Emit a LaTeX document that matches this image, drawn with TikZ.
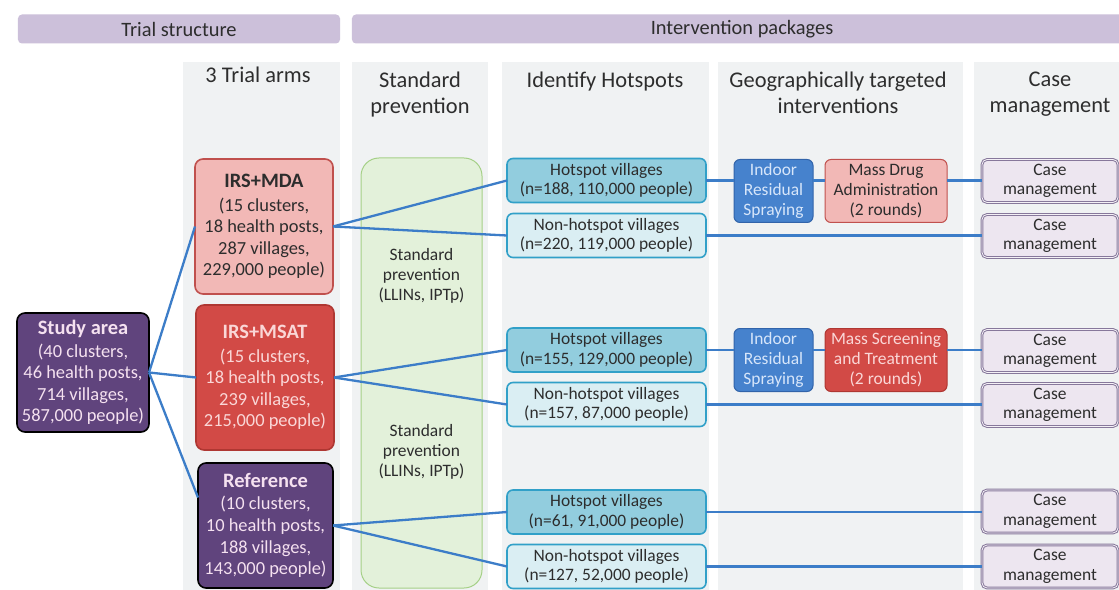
\documentclass[tikz,border=0pt]{standalone}
\usepackage{fontspec}
\setmainfont{Carlito}

\definecolor{barlav}{RGB}{204,192,218}
\definecolor{panelgray}{RGB}{240,242,243}
\definecolor{textdark}{RGB}{45,45,45}
\definecolor{purpfill}{RGB}{96,68,125}
\definecolor{purptext}{RGB}{245,225,240}
\definecolor{mdafill}{RGB}{242,184,182}
\definecolor{mdaline}{RGB}{192,80,77}
\definecolor{msatfill}{RGB}{210,74,70}
\definecolor{msatline}{RGB}{175,55,50}
\definecolor{msattext}{RGB}{250,215,215}
\definecolor{hotfill}{RGB}{146,205,222}
\definecolor{hotline}{RGB}{49,160,200}
\definecolor{nonfill}{RGB}{218,238,243}
\definecolor{irsfill}{RGB}{70,130,205}
\definecolor{irsline}{RGB}{50,100,170}
\definecolor{irstext}{RGB}{215,230,250}
\definecolor{greenfill}{RGB}{227,241,218}
\definecolor{greenline}{RGB}{165,208,135}
\definecolor{cmfill}{RGB}{237,230,240}
\definecolor{cmline}{RGB}{135,120,155}
\definecolor{linkblue}{RGB}{60,125,200}

\newcommand{\armtitle}{\bfseries\fontsize{20.5}{24}\selectfont}

\begin{document}
\begin{tikzpicture}[x=1bp,y=-1bp,
  every node/.style={inner sep=0pt, outer sep=0pt, align=center, text=textdark},
  banner/.style={fill=barlav, rounded corners=4bp, minimum height=29bp,
    font=\fontsize{20.5}{24}\selectfont},
  colhead/.style={anchor=north, font=\fontsize{22.5}{26}\selectfont},
  armbox/.style={rounded corners=8bp, line width=1.6bp,
    font=\fontsize{18.5}{21.7}\selectfont},
  stdbox/.style={fill=greenfill, draw=greenline, line width=1bp, rounded corners=18bp},
  stdtext/.style={font=\fontsize{17.5}{20}\selectfont},
  vilbox/.style={draw=hotline, line width=1.6bp, rounded corners=6bp,
    minimum width=199bp, minimum height=44bp, font=\fontsize{17.5}{19.5}\selectfont},
  hotbox/.style={vilbox, fill=hotfill},
  nonbox/.style={vilbox, fill=nonfill},
  irsbox/.style={fill=irsfill, draw=irsline, line width=1bp, rounded corners=6bp,
    minimum width=79bp, minimum height=63bp, text=irstext,
    font=\fontsize{17.5}{20.5}\selectfont},
  drugbox/.style={rounded corners=6bp, line width=1bp,
    minimum width=122bp, minimum height=63bp, font=\fontsize{17.5}{20}\selectfont},
  cmbox/.style={fill=cmfill, draw=cmline, double=cmfill!60!white, double distance=0.8bp,
    line width=1bp, rounded corners=5bp, minimum width=136bp, minimum height=43bp,
    font=\fontsize{17.5}{19.5}\selectfont},
  link/.style={draw=linkblue, line width=2.3bp}
]
\useasboundingbox (0,0) rectangle (1119,590);
\fill[white] (0,0) rectangle (1119,590);

% section banners
\node[banner, minimum width=322bp] (barA) at (179,29) {Trial structure};
\node[banner, minimum width=780bp] (barB) at (742,29) {Intervention packages};

% column panels
\fill[panelgray] (183,62) rectangle (340,595);
\fill[panelgray] (352,62) rectangle (488,595);
\fill[panelgray] (502,62) rectangle (709,595);
\fill[panelgray] (718,62) rectangle (963,595);
\fill[panelgray] (974,62) rectangle (1125,595);

% column headings
\node[colhead] (hArms) at (258,67) {3 Trial arms};
\node[colhead] (hStd) at (420,72) {Standard\\prevention};
\node[colhead] (hHot) at (605,72) {Identify Hotspots};
\node[colhead] (hGeo) at (838,72) {Geographically targeted\\interventions};
\node[colhead] (hCase) at (1050,72) {Case\\management};

% standard prevention band
\node[stdbox, minimum width=121bp, minimum height=430bp] (std) at (421.5,373) {};
\node[stdtext] (stdA) at (421.5,276) {Standard\\prevention\\(LLINs, IPTp)};
\node[stdtext] (stdB) at (421.5,452) {Standard\\prevention\\(LLINs, IPTp)};

% study area and trial arms
\node[armbox, fill=purpfill, draw=black, text=purptext, minimum width=132bp, minimum height=119bp]
  (study) at (83,372.5) {{\armtitle Study area}\\[1pt](40 clusters,\\46 health posts,\\714 villages,\\587,000 people)};
\node[armbox, fill=mdafill, draw=mdaline, minimum width=138bp, minimum height=135bp]
  (mda) at (264,226.5) {{\armtitle IRS+MDA}\\[2pt](15 clusters,\\18 health posts,\\287 villages,\\229,000 people)};
\node[armbox, fill=msatfill, draw=msatline, text=msattext, minimum width=138bp, minimum height=145bp]
  (msat) at (265,377.5) {{\armtitle IRS+MSAT}\\[2pt](15 clusters,\\18 health posts,\\239 villages,\\215,000 people)};
\node[armbox, fill=purpfill, draw=black, text=purptext, minimum width=135bp, minimum height=125bp]
  (refb) at (265.5,525.5) {{\armtitle Reference}\\[1pt](10 clusters,\\10 health posts,\\188 villages,\\143,000 people)};

% village groups
\node[hotbox] (h1) at (606.5,180.5) {Hotspot villages\\(n=188, 110,000 people)};
\node[nonbox] (n1) at (606.5,235.5) {Non-hotspot villages\\(n=220, 119,000 people)};
\node[hotbox] (h2) at (606.5,350) {Hotspot villages\\(n=155, 129,000 people)};
\node[nonbox] (n2) at (606.5,404.5) {Non-hotspot villages\\(n=157, 87,000 people)};
\node[hotbox] (h3) at (606.5,512) {Hotspot villages\\(n=61, 91,000 people)};
\node[nonbox] (n3) at (606.5,566.5) {Non-hotspot villages\\(n=127, 52,000 people)};

% targeted interventions
\node[irsbox] (irs1) at (773.5,191) {Indoor\\Residual\\Spraying};
\node[drugbox, fill=mdafill, draw=mdaline] (mdaI) at (886,191) {Mass Drug\\Administration\\(2 rounds)};
\node[irsbox] (irs2) at (773.5,360) {Indoor\\Residual\\Spraying};
\node[drugbox, fill=msatfill, draw=msatline, text=msattext] (msatI) at (886,360) {Mass Screening\\and Treatment\\(2 rounds)};

% case management
\node[cmbox] (cm1) at (1050,181) {Case\\management};
\node[cmbox] (cm2) at (1050,236) {Case\\management};
\node[cmbox] (cm3) at (1050,351) {Case\\management};
\node[cmbox] (cm4) at (1050,405) {Case\\management};
\node[cmbox] (cm5) at (1050,511.5) {Case\\management};
\node[cmbox] (cm6) at (1050,566.5) {Case\\management};

% connectors: study area to arms
\draw[link] (study.east) -- (mda.west);
\draw[link] (study.east) -- (msat.west);
\draw[link] (study.east) -- ([yshift=28bp]refb.west);

% arms to village groups
\draw[link] (mda.east) -- (h1.west);
\draw[link] (mda.east) -- (n1.west);
\draw[link] (msat.east) -- (h2.west);
\draw[link] (msat.east) -- (n2.west);
\draw[link] (refb.east) -- (h3.west);
\draw[link] (refb.east) -- (n3.west);

% IRS+MDA hotspots
\draw[link] (h1.east) -- (h1.east -| irs1.west);
\draw[link] (h1.east -| irs1.east) -- (h1.east -| mdaI.west);
\draw[link] (h1.east -| mdaI.east) -- (h1.east -| cm1.west);
\draw[link] (n1.east) -- (n1.east -| cm2.west);

% IRS+MSAT hotspots
\draw[link] (h2.east) -- (h2.east -| irs2.west);
\draw[link] (h2.east -| irs2.east) -- (h2.east -| msatI.west);
\draw[link] (h2.east -| msatI.east) -- (h2.east -| cm3.west);
\draw[link] (n2.east) -- (n2.east -| cm4.west);

% reference arm
\draw[link] (h3.east) -- (h3.east -| cm5.west);
\draw[link] (n3.east) -- (n3.east -| cm6.west);
\end{tikzpicture}
\end{document}
